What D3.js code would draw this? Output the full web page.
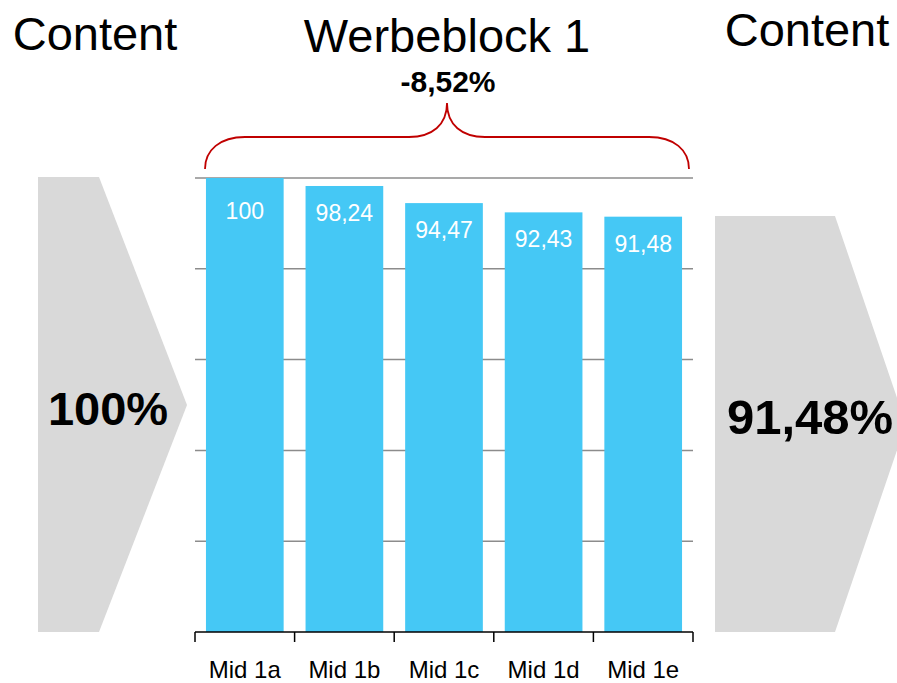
<!DOCTYPE html>
<html>
  <head>
    <meta charset="UTF-8" />
    <style>
      body { margin: 0; background: #fff; }
      svg text { font-family: "Liberation Sans", Arial, sans-serif; }
    </style>
  </head>
  <body>
    <svg></svg>
    <script src="https://d3js.org/d3.v7.min.js"></script>
    <script>
      let width = 897,
        height = 683;

      // data
      const categories = ["Mid 1a", "Mid 1b", "Mid 1c", "Mid 1d", "Mid 1e"];
      const values = [100, 98.24, 94.47, 92.43, 91.48];
      const gridTicks = [20, 40, 60, 80, 100];
      const startLabel = "100%";
      const endLabel = "91,48%";
      const changeLabel = "-8,52%";
      const blockTitle = "Werbeblock 1";
      const sideTitle = "Content";

      const fmt = (v) => String(v).replace(".", ",");

      let svg = d3.select("svg").attr("width", width).attr("height", height);

      let x = d3
        .scaleBand()
        .domain(categories)
        .range([195, 693])
        .paddingInner(0.22)
        .paddingOuter(0.11);

      let y = d3.scaleLinear().domain([0, 100]).range([632, 178]);

      // chevrons
      svg
        .append("path")
        .attr("d", "M38,177 L99,177 L187,405 L99,632 L38,632 Z")
        .attr("fill", "#d9d9d9");
      svg
        .append("path")
        .attr("d", "M715,216 L835,216 L906,424 L835,632 L715,632 Z")
        .attr("fill", "#d9d9d9");

      svg
        .append("text")
        .attr("x", 108)
        .attr("y", 425)
        .attr("text-anchor", "middle")
        .attr("font-size", 47)
        .attr("font-weight", "bold")
        .text(startLabel);
      svg
        .append("text")
        .attr("x", 810)
        .attr("y", 434)
        .attr("text-anchor", "middle")
        .attr("font-size", 49)
        .attr("font-weight", "bold")
        .text(endLabel);

      // gridlines
      svg
        .append("g")
        .selectAll("line")
        .data(gridTicks)
        .enter()
        .append("line")
        .attr("x1", 195)
        .attr("x2", 693)
        .attr("y1", (d) => y(d))
        .attr("y2", (d) => y(d))
        .attr("stroke", "#8c8c8c")
        .attr("stroke-width", 1.5);

      // bars
      svg
        .append("g")
        .selectAll("rect")
        .data(values)
        .enter()
        .append("rect")
        .attr("x", (d, i) => x(categories[i]))
        .attr("width", x.bandwidth())
        .attr("y", (d) => y(d))
        .attr("height", (d) => y(0) - y(d))
        .attr("fill", "#45c8f5");

      svg
        .append("g")
        .selectAll("text")
        .data(values)
        .enter()
        .append("text")
        .attr("x", (d, i) => x(categories[i]) + x.bandwidth() / 2)
        .attr("y", (d) => Math.max(y(d) + 35, 219))
        .attr("text-anchor", "middle")
        .attr("font-size", 23)
        .attr("fill", "#fff")
        .text((d) => fmt(d));

      // x axis
      let xAxis = svg.append("g").attr("transform", "translate(0,632)");
      xAxis
        .append("line")
        .attr("x1", 195)
        .attr("x2", 693)
        .attr("stroke", "#000")
        .attr("stroke-width", 1.5);
      let bounds = categories.map((c) => x(c) - (x.step() * 0.22) / 2);
      bounds.push(693);
      xAxis
        .selectAll(".tick")
        .data(bounds)
        .enter()
        .append("line")
        .attr("x1", (d) => d)
        .attr("x2", (d) => d)
        .attr("y1", 0)
        .attr("y2", 10)
        .attr("stroke", "#000")
        .attr("stroke-width", 1.5);
      xAxis
        .selectAll("text")
        .data(categories)
        .enter()
        .append("text")
        .attr("x", (d) => x(d) + x.bandwidth() / 2)
        .attr("y", 46)
        .attr("text-anchor", "middle")
        .attr("font-size", 24)
        .attr("fill", "#000")
        .text((d) => d);

      // brace over the block
      let bl = 205,
        br = 689,
        bm = (bl + br) / 2,
        by = 137;
      svg
        .append("path")
        .attr(
          "d",
          `M${bl},169 C${bl},150 ${bl + 15},${by} ${bl + 40},${by} L${bm - 38},${by} ` +
            `C${bm - 15},${by} ${bm},${by - 12} ${bm},103 ` +
            `C${bm},${by - 12} ${bm + 15},${by} ${bm + 38},${by} L${br - 40},${by} ` +
            `C${br - 15},${by} ${br},150 ${br},169`
        )
        .attr("fill", "none")
        .attr("stroke", "#c00000")
        .attr("stroke-width", 1.8);

      // titles
      svg
        .append("text")
        .attr("x", 95)
        .attr("y", 50)
        .attr("text-anchor", "middle")
        .attr("font-size", 47)
        .text(sideTitle);
      svg
        .append("text")
        .attr("x", 447)
        .attr("y", 52)
        .attr("text-anchor", "middle")
        .attr("font-size", 47)
        .text(blockTitle);
      svg
        .append("text")
        .attr("x", 807)
        .attr("y", 46)
        .attr("text-anchor", "middle")
        .attr("font-size", 47)
        .text(sideTitle);
      svg
        .append("text")
        .attr("x", 448)
        .attr("y", 92)
        .attr("text-anchor", "middle")
        .attr("font-size", 30)
        .attr("font-weight", "bold")
        .text(changeLabel);
    </script>
  </body>
</html>
